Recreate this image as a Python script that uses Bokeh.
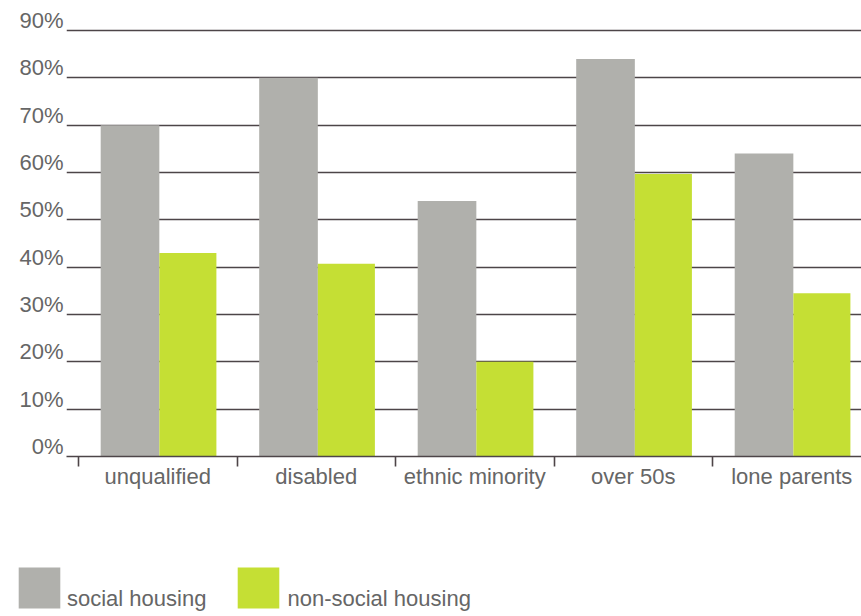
from bokeh.plotting import figure
from bokeh.models import (Range1d, LinearAxis, FixedTicker, ColumnDataSource,
                          Legend, LegendItem)
from bokeh.transform import dodge
from bokeh.embed import file_html
from bokeh.resources import INLINE

# ---- data ----
categories = ["unqualified", "disabled", "ethnic minority", "over 50s", "lone parents"]
social_housing = [70, 80, 54, 84, 64]
non_social_housing = [43, 40.7, 20, 59.7, 34.5]
series_names = ["social housing", "non-social housing"]
y_ticks = [0, 10, 20, 30, 40, 50, 60, 70, 80, 90]
y_tick_labels = ["0%", "10%", "20%", "30%", "40%", "50%", "60%", "70%", "80%", "90%"]

# ---- style ----
GRAY = "#b0b0ac"
GREEN = "#c5df34"
LINE = "#4d4548"
TEXT = "#666666"
FONT = "Liberation Sans"
FS = "22px"
Y_END = 92.53

centers = [i + 0.5 for i in range(len(categories))]
boundaries = list(range(len(categories) + 1))
src = ColumnDataSource(dict(x=centers, social=social_housing, nonsocial=non_social_housing))

p = figure(width=861, height=520, output_backend="svg", toolbar_location=None,
           x_range=Range1d(-0.0757, 4.940), y_range=Range1d(0, Y_END),
           x_axis_location=None, y_axis_location=None,
           min_border_left=66, min_border_right=0, min_border_top=18, min_border_bottom=64)
p.outline_line_color = None
p.background_fill_color = "white"
p.border_fill_color = "white"

# grid lines
p.ygrid.ticker = FixedTicker(ticks=y_ticks)
p.ygrid.grid_line_color = LINE
p.ygrid.grid_line_width = 1.6
p.xgrid.grid_line_color = None

# y axis labels (shifted so text sits just above each line)
shift = 2.1
p.extra_y_ranges = {"lab": Range1d(-shift, Y_END - shift)}
yax = LinearAxis(y_range_name="lab", ticker=FixedTicker(ticks=y_ticks, minor_ticks=[]),
                 major_label_overrides={t: l for t, l in zip(y_ticks, y_tick_labels)})
yax.axis_line_color = None
yax.major_tick_line_color = None
yax.minor_tick_line_color = None
yax.major_tick_out = 0
yax.major_tick_in = 0
yax.major_label_standoff = 3
yax.major_label_text_font = FONT
yax.major_label_text_font_size = FS
yax.major_label_text_color = TEXT
p.add_layout(yax, "left")

# x axis: ticks at category boundaries, labels at centres
xax = LinearAxis(ticker=FixedTicker(ticks=centers, minor_ticks=boundaries),
                 major_label_overrides={c: n for c, n in zip(centers, categories)})
xax.axis_line_color = LINE
xax.axis_line_width = 1.6
xax.major_tick_line_color = None
xax.major_tick_out = 0
xax.major_tick_in = 0
xax.minor_tick_line_color = LINE
xax.minor_tick_line_width = 1.6
xax.minor_tick_out = 10
xax.minor_tick_in = 0
xax.major_label_standoff = -3
xax.major_label_text_font = FONT
xax.major_label_text_font_size = FS
xax.major_label_text_color = TEXT
p.add_layout(xax, "below")

p.vbar(x=dodge("x", -0.175, range=p.x_range), top="social", width=0.37, bottom=0,
       source=src, fill_color=GRAY, line_color=None)
p.vbar(x=dodge("x", 0.19, range=p.x_range), top="nonsocial", width=0.36, bottom=0,
       source=src, fill_color=GREEN, line_color=None)

# ---- legend strip (separate root so its frame starts at the left edge) ----
q = figure(width=861, height=96, output_backend="svg", toolbar_location=None,
           x_range=Range1d(0, 1), y_range=Range1d(0, 1),
           x_axis_location=None, y_axis_location=None,
           min_border_left=0, min_border_right=0, min_border_top=0, min_border_bottom=0)
q.outline_line_color = None
q.grid.grid_line_color = None
q.border_fill_color = "white"
# zero-size proxy bars that only carry the legend swatches / label slots
proxy = ColumnDataSource(dict(x=[0], top=[0]))
g1 = q.vbar(x="x", top="top", width=0, bottom=0, source=proxy, fill_color=GRAY, line_color=None)
g2 = q.vbar(x="x", top="top", width=0, bottom=0, source=proxy, fill_color=GREEN, line_color=None)
t1 = q.vbar(x="x", top="top", width=0, bottom=0, source=proxy, fill_alpha=0, line_color=None)
t2 = q.vbar(x="x", top="top", width=0, bottom=0, source=proxy, fill_alpha=0, line_color=None)


def style(lg):
    lg.glyph_width = 52
    lg.glyph_height = 51
    lg.label_standoff = 2
    lg.padding = 0
    lg.margin = 0
    lg.border_line_color = None
    lg.background_fill_alpha = 0
    lg.label_text_font = FONT
    lg.label_text_font_size = FS
    lg.label_text_color = TEXT


# swatches
swatches = Legend(items=[LegendItem(label=" ", renderers=[g1]),
                         LegendItem(label=" ", renderers=[g2])],
                  orientation="horizontal", location=(13, 3))
style(swatches)
swatches.spacing = 145
q.add_layout(swatches, "center")

# labels, sitting lower beside the swatches
labels = Legend(items=[LegendItem(label=series_names[0], renderers=[t1]),
                       LegendItem(label=series_names[1], renderers=[t2])],
                orientation="horizontal", location=(13, -8))
style(labels)
labels.spacing = 27
q.add_layout(labels, "center")

open("out.html", "w").write(file_html([p, q], INLINE))
